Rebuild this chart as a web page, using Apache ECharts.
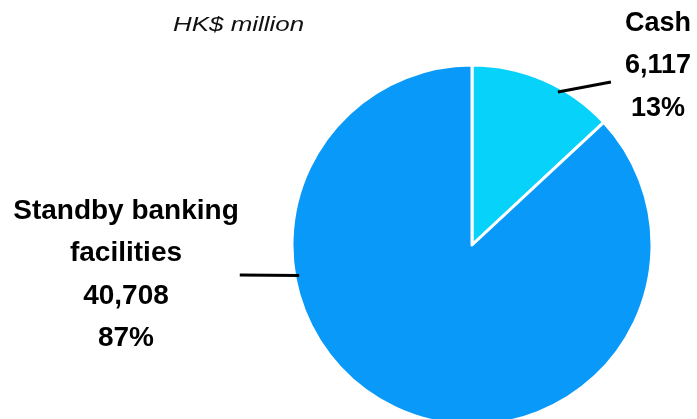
<!DOCTYPE html>
<html>
<head>
<meta charset="utf-8">
<script src="https://cdn.jsdelivr.net/npm/echarts@6/dist/echarts.min.js"></script>
<style>
  html, body { margin: 0; padding: 0; background: #ffffff; }
  #chart { width: 697px; height: 419px; }
</style>
</head>
<body>
<div id="chart"></div>
<script>
// Liquidity split, HK$ million
const categories = ['Cash', 'Standby banking\nfacilities'];
const values = [6117, 40708];
const sliceColors = ['#07D2FA', '#0899F9'];
const unitLabel = 'HK$ million';

// Pie geometry (px)
const CX = 472, CY = 245, R = 180, BORDER = 3;
const VISIBLE_R = R - BORDER / 2;
const LABEL_FONT = '"Liberation Sans", Arial, sans-serif';

const fmt = echarts.format.addCommas;
const total = values.reduce((a, b) => a + b, 0);
const labelText = i => categories[i] + '\n' + fmt(values[i]) + '\n' + Math.round(values[i] / total * 100) + '%';

// Where each label sits and where its leader line touches the pie
const labelPlacement = [
  { x: 658, y: 66, fontSize: 27, anchorDeg: 29.3, end: (w, x, y) => [x - w / 2 - 14, y + 16] },
  { x: 126, y: 275, fontSize: 28, anchorDeg: 260, end: (w, x, y) => [x + w / 2 + 1, y] }
];

function pointOnPie(deg, inset) {
  const a = deg * Math.PI / 180;
  const r = VISIBLE_R - inset;
  return [CX + r * Math.sin(a), CY - r * Math.cos(a)];
}

// Width of the widest line of a label block
const measureCtx = document.createElement('canvas').getContext('2d');
function blockWidth(text, size) {
  measureCtx.font = 'bold ' + size + 'px ' + LABEL_FONT;
  return Math.max.apply(null, text.split('\n').map(t => measureCtx.measureText(t).width));
}

// Leader lines, drawn above the slices
const leaderLines = labelPlacement.map((pl, i) => ({
  type: 'polyline',
  z: 100,
  silent: true,
  shape: { points: [pointOnPie(pl.anchorDeg, 3), pl.end(blockWidth(labelText(i), pl.fontSize), pl.x, pl.y)] },
  style: { stroke: '#000000', lineWidth: 3, fill: null }
}));

const chart = echarts.init(document.getElementById('chart'), null, { renderer: 'canvas' });

chart.setOption({
  animation: false,
  backgroundColor: '#ffffff',
  graphic: [{
    type: 'text',
    x: 173,
    y: 25,
    scaleX: 1.235,
    style: {
      text: unitLabel,
      font: 'italic 21px ' + LABEL_FONT,
      fill: '#111111',
      verticalAlign: 'middle',
      align: 'left'
    }
  }].concat(leaderLines),
  series: [{
    type: 'pie',
    center: [CX, CY],
    radius: R,
    startAngle: 90,
    clockwise: true,
    silent: true,
    emphasis: { disabled: true },
    itemStyle: { borderColor: '#ffffff', borderWidth: BORDER },
    label: {
      show: true,
      position: 'outside',
      color: '#000000',
      fontWeight: 'bold',
      fontFamily: LABEL_FONT,
      lineHeight: 42.5,
      align: 'center',
      formatter: p => labelText(p.dataIndex)
    },
    labelLine: { show: false },
    labelLayout: params => {
      const pl = labelPlacement[params.dataIndex];
      return { x: pl.x, y: pl.y, align: 'center', verticalAlign: 'middle' };
    },
    data: categories.map((name, i) => ({
      name: name,
      value: values[i],
      itemStyle: { color: sliceColors[i] },
      label: { fontSize: labelPlacement[i].fontSize }
    }))
  }]
});
</script>
</body>
</html>
